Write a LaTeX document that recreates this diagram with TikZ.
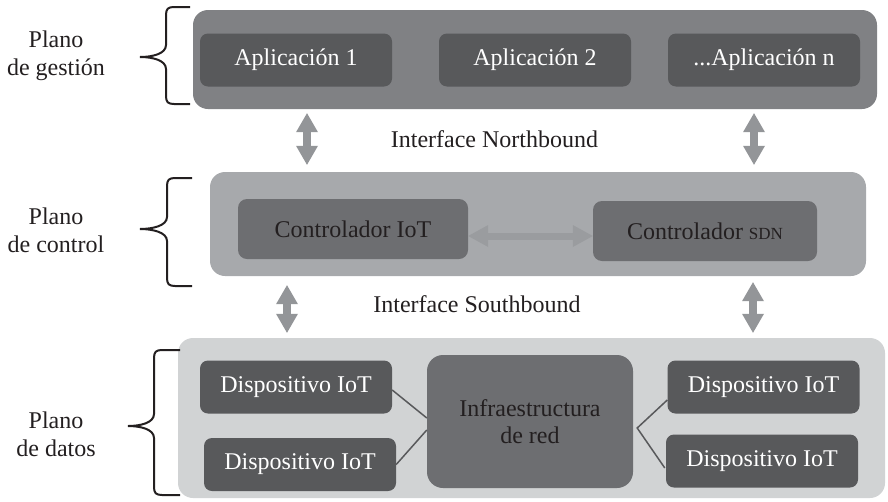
\documentclass[tikz,border=0pt]{standalone}
\usepackage{fontspec}
\setmainfont{Liberation Serif}
\usetikzlibrary{arrows.meta,calc}
\definecolor{cTop}{HTML}{808184}
\definecolor{cCtrl}{HTML}{A7A9AC}
\definecolor{cData}{HTML}{D1D3D4}
\definecolor{cDark}{HTML}{58595B}
\definecolor{cMid}{HTML}{6D6E71}
\definecolor{cArrow}{HTML}{939598}
\definecolor{cHArrow}{HTML}{9A9C9F}
\definecolor{cInk}{HTML}{231F20}
\newcommand\mybrace[6]{%
  \draw[bracestyle] (#1,#4) -- ({#2+8},#4) .. controls ({#2+2},#4) and (#2,{#4+2}) .. (#2,{#4+8})
    -- (#2,{#5-12}) .. controls (#2,{#5-3}) and ({#3+12},#5) .. (#3,#5)
    .. controls ({#3+12},#5) and (#2,{#5+3}) .. (#2,{#5+12})
    -- (#2,{#6-8}) .. controls (#2,{#6-2}) and ({#2+2},#6) .. ({#2+8},#6) -- (#1,#6);}
\begin{document}
\begin{tikzpicture}[x=1pt,y=-1pt,
  font=\fontsize{24}{28}\selectfont,
  panel/.style={rounded corners=15pt, inner sep=0pt},
  darkbox/.style={fill=cDark, rounded corners=8pt, inner sep=0pt, text=white,
    minimum width=192pt, minimum height=53pt},
  midbox/.style={fill=cMid, rounded corners=9pt, inner sep=0pt, text=cInk,
    minimum height=60pt},
  lbl/.style={text=cInk, align=center, inner sep=0pt},
  bracestyle/.style={draw=cInk, line width=2pt},
  varrow/.style={draw=cArrow, line width=8pt,
    {Triangle[width=22pt,length=19pt,line width=0pt]}-{Triangle[width=22pt,length=19pt,line width=0pt]}},
  harrow/.style={draw=cHArrow, line width=7pt,
    {Triangle[width=22pt,length=20pt,line width=0pt]}-{Triangle[width=22pt,length=20pt,line width=0pt]}},
  wire/.style={draw=cDark, line width=1.5pt}]
\useasboundingbox (0,0) rectangle (888,501);

% panels
\node[panel, fill=cTop, minimum width=684pt, minimum height=99pt] (topP) at (535,59.5) {};
\node[panel, fill=cCtrl, minimum width=656pt, minimum height=104pt] (ctrlP) at (538,224) {};
\node[panel, fill=cData, minimum width=707pt, minimum height=160pt] (dataP) at (531.5,418) {};

% management plane
\node[darkbox] (app1) at (296,60) {Aplicación 1};
\node[darkbox] (app2) at (535,60) {Aplicación 2};
\node[darkbox] (appn) at (764,60) {...Aplicación n};

% control plane
\node[midbox, minimum width=230pt] (ctrlIoT) at (353,229) {Controlador IoT};
\node[midbox, minimum width=224pt] (ctrlSDN) at (705,231) {Controlador {\fontsize{17}{20}\selectfont SDN}};
\draw[harrow] ([yshift=-7pt]ctrlIoT.east) -- ([yshift=-5pt]ctrlSDN.west);

% data plane
\node[darkbox] (devTL) at (296,387) {Dispositivo IoT};
\node[darkbox] (devBL) at (300,464.5) {Dispositivo IoT};
\node[midbox, rounded corners=16pt, minimum width=206pt, minimum height=133pt, align=center,
  font=\fontsize{24}{27}\selectfont] (infra) at (530,421.5) {Infraestructura\\de red};
\node[darkbox] (devTR) at (763.5,387) {Dispositivo IoT};
\node[darkbox] (devBR) at (762,461) {Dispositivo IoT};
\draw[wire] ([yshift=-3pt]devTL.east) -- ([yshift=3.5pt]infra.west);
\draw[wire] (devBL.east) -- ([yshift=-8.5pt]infra.west);
\coordinate (fork) at ([xshift=4pt,yshift=-6.5pt]infra.east);
\draw[wire] ([yshift=-13pt]devTR.west) -- (fork) -- ([yshift=-7pt,xshift=-1pt]devBR.west);

% interface arrows
\coordinate (xA) at (307,0);
\coordinate (xB) at (754,0);
\coordinate (xC) at (287,0);
\coordinate (xD) at (753,0);
\draw[varrow, shorten <=4pt, shorten >=7pt] (topP.south -| xA) -- (ctrlP.north -| xA);
\draw[varrow, shorten <=4pt, shorten >=7pt] (topP.south -| xB) -- (ctrlP.north -| xB);
\draw[varrow, shorten <=9pt, shorten >=5pt] (ctrlP.south -| xC) -- (dataP.north -| xC);
\draw[varrow, shorten <=6pt, shorten >=5pt] (ctrlP.south -| xD) -- (dataP.north -| xD);
\node[lbl, anchor=base] (nb) at (494.5,147) {Interface Northbound};
\node[lbl, anchor=base] (sb) at (477,312) {Interface Southbound};

% plane labels and braces
\node[lbl] (lg) at (56,56) {Plano\\de gestión};
\node[lbl] (lc) at (56,230) {Plano\\de control};
\node[lbl] (ld) at (56,434) {Plano\\de datos};
\mybrace{190}{166}{140}{7}{57}{104}
\mybrace{192}{167}{140}{178}{229}{286}
\mybrace{180}{154}{128}{350}{426}{495}
\end{tikzpicture}
\end{document}
